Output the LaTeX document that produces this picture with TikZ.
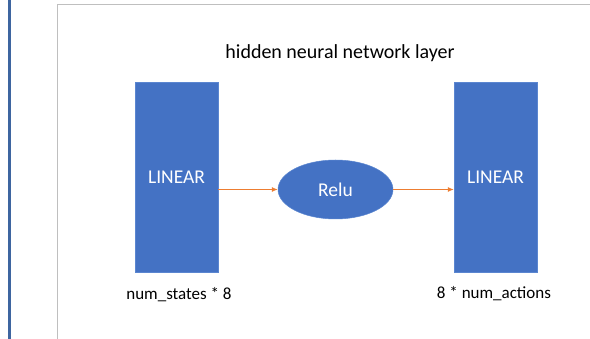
\documentclass[tikz,border=0pt]{standalone}
\usepackage{fontspec}
\setmainfont{Carlito}
\usetikzlibrary{shapes.geometric, arrows.meta, positioning}
\definecolor{boxblue}{HTML}{4472C4}
\definecolor{edgeblue}{HTML}{5B86D0}
\definecolor{barblue}{HTML}{3E65A0}
\definecolor{arrorange}{HTML}{ED7D31}
\definecolor{framegray}{HTML}{BFBFBF}

\begin{document}
\begin{tikzpicture}[x=1pt, y=-1pt, >={Latex[length=6pt,width=5pt]},
    lin/.style={draw=edgeblue, line width=0.5pt, fill=boxblue, text=white, minimum width=83pt, minimum height=190pt, font=\fontsize{19.5}{22}\selectfont},
    act/.style={ellipse, draw=edgeblue, line width=0.5pt, fill=boxblue, text=white, minimum width=115pt, minimum height=59pt, inner sep=0pt, font=\fontsize{19.5}{22}\selectfont},
    lbl/.style={font=\fontsize{17}{20}\selectfont}
]
    \useasboundingbox (0,0) rectangle (590,339);
    % page edge and slide frame
    \draw[barblue, line width=2.5pt] (9.5,0) -- (9.5,339);
    \draw[framegray, line width=0.8pt] (57.5,339) -- (57.5,4.5) -- (590,4.5);
    \node[font=\fontsize{20}{24}\selectfont] (title) at (340,53) {hidden neural network layer};
    \node[lin] (lin1) at (176.5,177) {LINEAR};
    \node[act] (relu) at (335.5,189.5) {Relu};
    \node[lin] (lin2) at (495.5,177) {LINEAR};
    \draw[->, arrorange, line width=0.8pt] (lin1.east |- relu) -- (relu);
    \draw[->, arrorange, line width=0.8pt] (relu) -- (lin2.west |- relu);
    \node[lbl] (in) at (179,295) {num\_states * 8};
    \node[lbl] (out) at (494,294) {8 * num\_actions};
\end{tikzpicture}
\end{document}
